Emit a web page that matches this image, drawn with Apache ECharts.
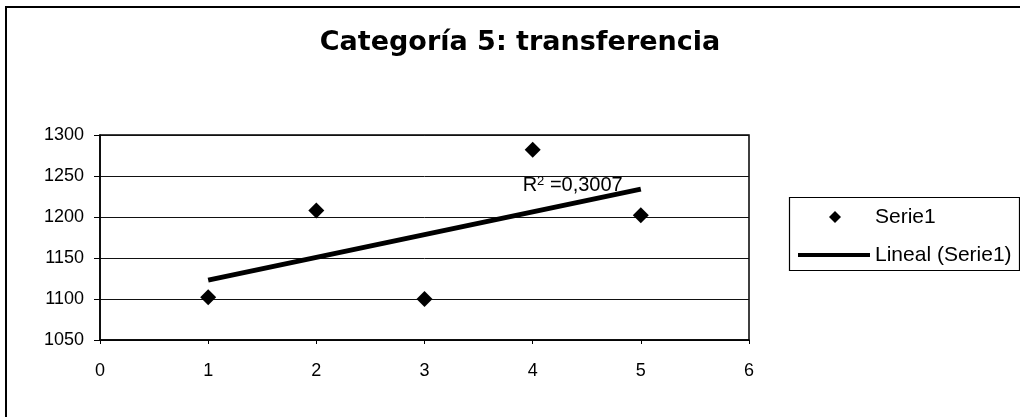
<!DOCTYPE html>
<html>
<head>
<meta charset="utf-8">
<script src="https://cdn.jsdelivr.net/npm/echarts@6/dist/echarts.min.js"></script>
<style>
  html, body { margin: 0; padding: 0; background: #fff; }
  #chart { width: 1020px; height: 417px; }
</style>
</head>
<body>
<div id="chart"></div>
<script>
// ---- data ----
const chartTitle = 'Categoría 5: transferencia';
const seriesName = 'Serie1';
const trendName = 'Lineal (Serie1)';
const xValues = [1, 2, 3, 4, 5];
const yValues = [1102, 1208, 1100, 1282, 1202];
const trendX = [1, 5];
const trendY = [1123, 1234];
const rSquaredText = '0,3007';
const rLabelAt = [4.37, 1238];
const xAxisMin = 0, xAxisMax = 6, xAxisStep = 1;
const yAxisMin = 1050, yAxisMax = 1300, yAxisStep = 50;

const points = xValues.map((x, i) => [x, yValues[i]]);
const trendPoints = trendX.map((x, i) => [x, trendY[i]]);

const FONT = '"Liberation Sans", Arial, sans-serif';
const legendText = { fontFamily: FONT, fontSize: 21, color: '#000', lineHeight: 22 };

const chart = echarts.init(document.getElementById('chart'), null, { renderer: 'canvas' });
chart.setOption({
  animation: false,
  backgroundColor: '#ffffff',
  title: {
    text: chartTitle,
    left: 520,
    textAlign: 'center',
    top: 29,
    padding: 0,
    textStyle: { fontFamily: '"DejaVu Sans", sans-serif', fontWeight: 'bold', fontSize: 27, color: '#000' }
  },
  graphic: [
    {
      type: 'rect',
      shape: { x: 6, y: 7, width: 1030, height: 430 },
      style: { fill: 'none', stroke: '#000', lineWidth: 2 },
      silent: true
    },
    {
      type: 'rect',
      shape: { x: 789.5, y: 197.5, width: 230, height: 73 },
      style: { fill: 'none', stroke: '#000', lineWidth: 1.2 },
      silent: true
    }
  ],
  legend: [
    {
      orient: 'vertical',
      left: 829,
      top: 206,
      padding: 0,
      itemWidth: 12,
      itemHeight: 12,
      textStyle: Object.assign({ padding: [0, 0, 0, 29] }, legendText),
      data: [{ name: seriesName, icon: 'diamond' }]
    },
    {
      orient: 'vertical',
      left: 798,
      top: 244,
      padding: 0,
      itemWidth: 72,
      itemHeight: 4,
      textStyle: legendText,
      data: [{ name: trendName, icon: 'rect' }]
    }
  ],
  grid: {
    show: true,
    left: 100, right: 271, top: 135, bottom: 77,
    borderColor: '#000', borderWidth: 1.5,
    backgroundColor: 'transparent'
  },
  xAxis: {
    type: 'value',
    min: xAxisMin, max: xAxisMax, interval: xAxisStep,
    axisLine: { show: true, lineStyle: { color: '#000', width: 1.5 } },
    axisTick: { show: true, length: 4, lineStyle: { color: '#000' } },
    splitLine: { show: false },
    axisLabel: { fontFamily: FONT, fontSize: 18, color: '#000', margin: 22, formatter: v => String(v) }
  },
  yAxis: {
    type: 'value',
    min: yAxisMin, max: yAxisMax, interval: yAxisStep,
    axisLine: { show: true, lineStyle: { color: '#000', width: 1.5 } },
    axisTick: { show: true, length: 6, lineStyle: { color: '#000' } },
    splitLine: { show: true, lineStyle: { color: '#111', width: 1 } },
    axisLabel: { fontFamily: FONT, fontSize: 18, color: '#000', margin: 16, formatter: v => String(v) }
  },
  series: [
    {
      name: trendName,
      type: 'line',
      data: trendPoints,
      symbol: 'none',
      showSymbol: false,
      lineStyle: { color: '#000', width: 5 },
      itemStyle: { color: '#000' },
      z: 2,
      markPoint: {
        symbol: 'circle',
        symbolSize: 1,
        itemStyle: { color: 'rgba(0,0,0,0)' },
        label: {
          show: true,
          position: 'inside',
          color: '#000',
          formatter: '{a|R}{b|2}{a| =' + rSquaredText + '}',
          rich: {
            a: { fontFamily: FONT, fontSize: 20, color: '#000' },
            b: { fontFamily: FONT, fontSize: 13, color: '#000', padding: [0, 0, 9, 0] }
          }
        },
        data: [{ coord: rLabelAt }]
      }
    },
    {
      name: seriesName,
      type: 'scatter',
      data: points,
      symbol: 'diamond',
      symbolSize: 16,
      itemStyle: { color: '#000', opacity: 1 },
      z: 3
    }
  ]
});
</script>
</body>
</html>
